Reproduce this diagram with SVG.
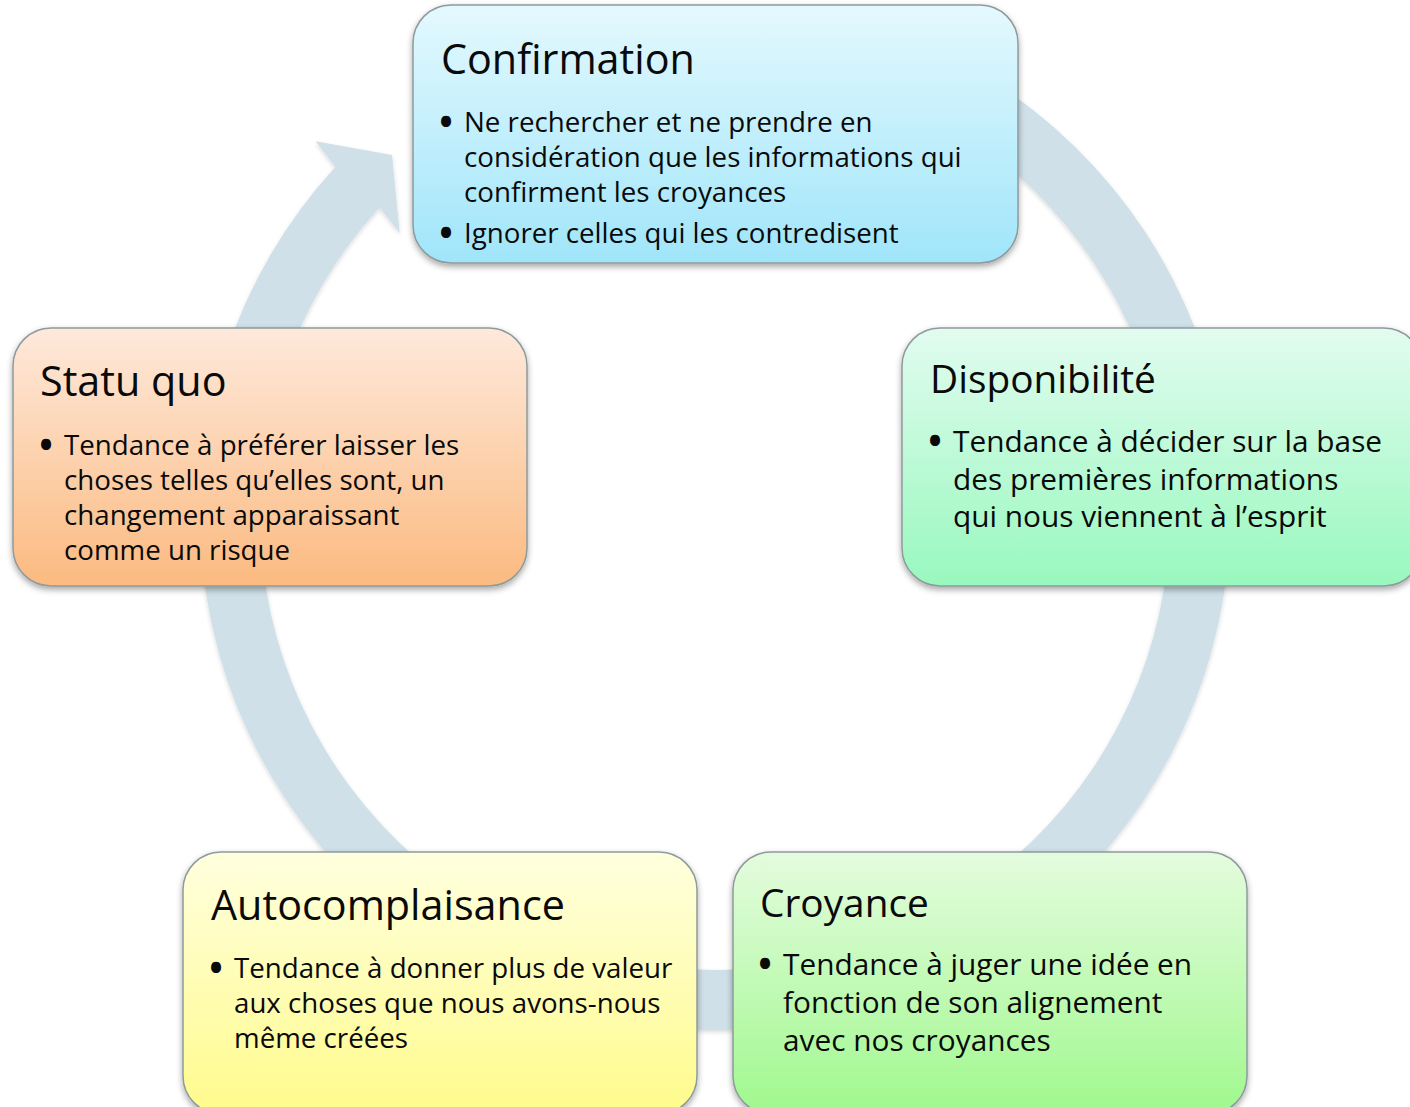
<svg xmlns="http://www.w3.org/2000/svg" width="1410" height="1107" viewBox="0 0 1410 1107">
<style>
.box{stroke:#8E9A9C;stroke-width:1.5;filter:url(#sh)}
.t{font-family:"Open Sans","Noto Sans",sans-serif;fill:#0A0A0A}
.ta{font-size:41.3px}
.tb{font-size:38.8px}
.ba{font-size:27.7px}
.bb{font-size:29.8px}
.bu{font-family:"Open Sans","Noto Sans",sans-serif;fill:#0A0A0A;font-size:48px}
.ring{fill:#CFE0E8;filter:url(#rs)}
</style>
<defs>
<filter id="sh" x="-10%" y="-10%" width="120%" height="130%">
<feDropShadow dx="0" dy="3" stdDeviation="3" flood-color="#000" flood-opacity="0.35"/>
</filter>
<filter id="rs" x="-10%" y="-10%" width="120%" height="120%">
<feDropShadow dx="0" dy="2" stdDeviation="2" flood-color="#000" flood-opacity="0.15"/>
</filter>
<linearGradient id="gC" x1="0" y1="0" x2="0" y2="1"><stop offset="0" stop-color="#E4F9FE"/><stop offset="1" stop-color="#A0E5FA"/></linearGradient>
<linearGradient id="gS" x1="0" y1="0" x2="0" y2="1"><stop offset="0" stop-color="#FEE9DB"/><stop offset="1" stop-color="#FBBA80"/></linearGradient>
<linearGradient id="gD" x1="0" y1="0" x2="0" y2="1"><stop offset="0" stop-color="#E2FCF0"/><stop offset="1" stop-color="#98F8BE"/></linearGradient>
<linearGradient id="gA" x1="0" y1="0" x2="0" y2="1"><stop offset="0" stop-color="#FFFFDE"/><stop offset="1" stop-color="#FFFB8C"/></linearGradient>
<linearGradient id="gR" x1="0" y1="0" x2="0" y2="1"><stop offset="0" stop-color="#E4FCDE"/><stop offset="1" stop-color="#A0F88E"/></linearGradient>
</defs>

<g id="connectors">
<path class="ring" d="M 891.14 31.06 A 515 515 0 1 1 335.30 167.07 L 315.6 141.2 L 392 155 L 399.7 233.1 L 379.54 207.61 A 455 455 0 1 0 870.62 87.44 Z"/>
</g>

<g id="node-confirmation">
<rect class="box" x="413" y="5" width="605" height="258" rx="38" fill="url(#gC)"/>
<text class="t ta" x="441" y="74">Confirmation</text>
<text class="bu" x="437" y="139">•</text>
<text class="t ba" x="464" y="132">Ne rechercher et ne prendre en</text>
<text class="t ba" x="464" y="167">considération que les informations qui</text>
<text class="t ba" x="464" y="202">confirment les croyances</text>
<text class="bu" x="437" y="250">•</text>
<text class="t ba" x="464" y="243">Ignorer celles qui les contredisent</text>
</g>

<g id="node-statu-quo">
<rect class="box" x="13" y="328" width="514" height="258" rx="38" fill="url(#gS)"/>
<text class="t ta" x="40" y="396">Statu quo</text>
<text class="bu" x="37" y="462">•</text>
<text class="t ba" x="64" y="455">Tendance à préférer laisser les</text>
<text class="t ba" x="64" y="490">choses telles qu’elles sont, un</text>
<text class="t ba" x="64" y="525">changement apparaissant</text>
<text class="t ba" x="64" y="560">comme un risque</text>
</g>

<g id="node-disponibilite">
<rect class="box" x="902" y="328" width="520" height="258" rx="38" fill="url(#gD)"/>
<text class="t tb" x="930" y="393">Disponibilité</text>
<text class="bu" x="926" y="458">•</text>
<text class="t bb" x="953" y="452">Tendance à décider sur la base</text>
<text class="t bb" x="953" y="490">des premières informations</text>
<text class="t bb" x="953" y="527">qui nous viennent à l’esprit</text>
</g>

<g id="node-autocomplaisance">
<rect class="box" x="183" y="852" width="514" height="262" rx="38" fill="url(#gA)"/>
<text class="t ta" x="211" y="920">Autocomplaisance</text>
<text class="bu" x="207" y="985">•</text>
<text class="t ba" x="234" y="978">Tendance à donner plus de valeur</text>
<text class="t ba" x="234" y="1013">aux choses que nous avons-nous</text>
<text class="t ba" x="234" y="1048">même créées</text>
</g>

<g id="node-croyance">
<rect class="box" x="733" y="852" width="514" height="262" rx="38" fill="url(#gR)"/>
<text class="t tb" x="760" y="917">Croyance</text>
<text class="bu" x="756" y="981">•</text>
<text class="t bb" x="783" y="975">Tendance à juger une idée en</text>
<text class="t bb" x="783" y="1013">fonction de son alignement</text>
<text class="t bb" x="783" y="1051">avec nos croyances</text>
</g>
</svg>
